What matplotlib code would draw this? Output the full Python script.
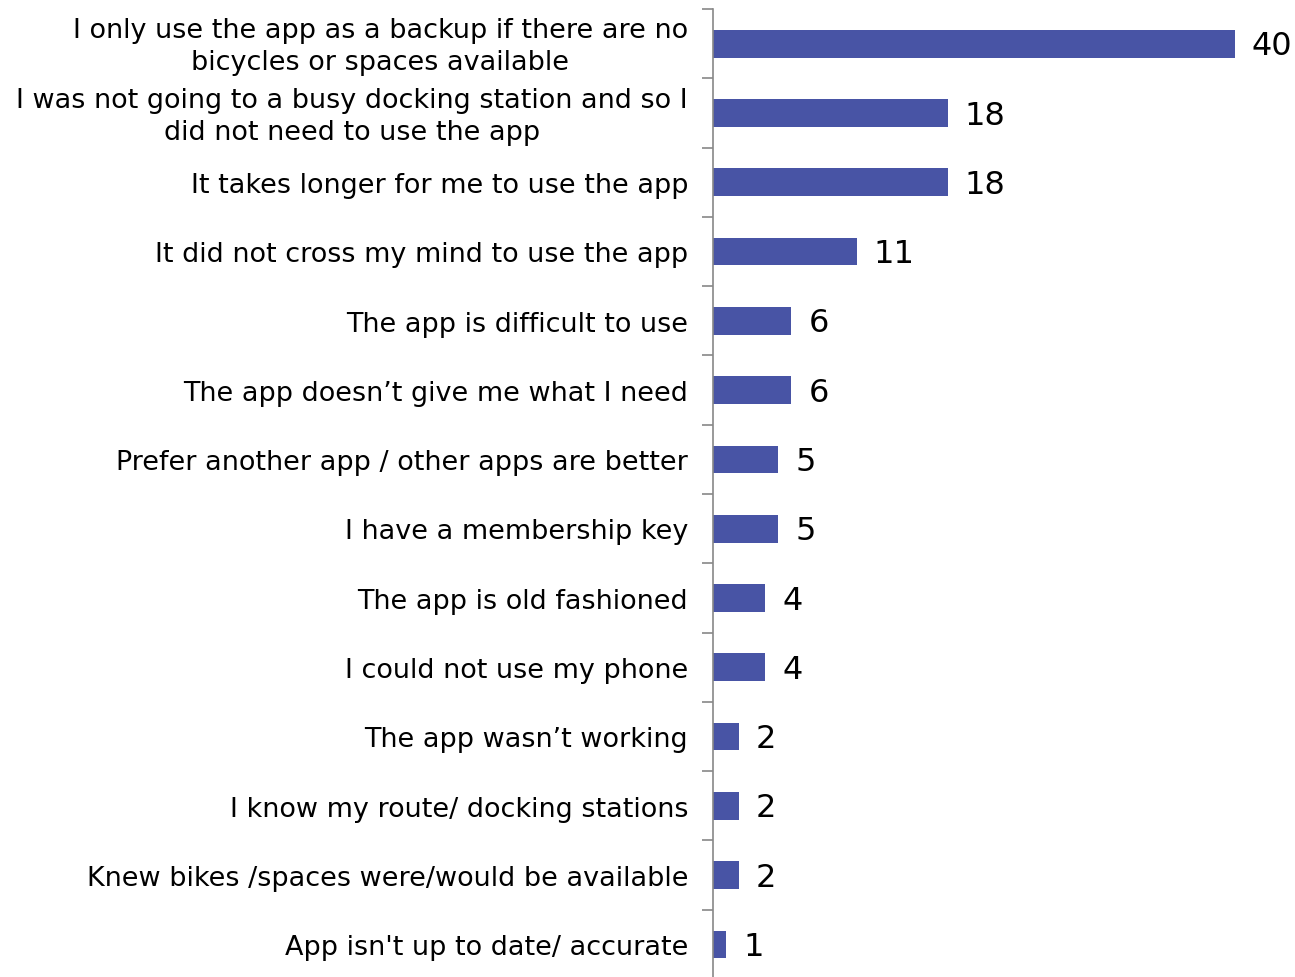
import matplotlib.pyplot as plt
import numpy as np

reasons = [
    "I only use the app as a backup if there are no\nbicycles or spaces available",
    "I was not going to a busy docking station and so I\ndid not need to use the app",
    "It takes longer for me to use the app",
    "It did not cross my mind to use the app",
    "The app is difficult to use",
    "The app doesn\u2019t give me what I need",
    "Prefer another app / other apps are better",
    "I have a membership key",
    "The app is old fashioned",
    "I could not use my phone",
    "The app wasn\u2019t working",
    "I know my route/ docking stations",
    "Knew bikes /spaces were/would be available",
    "App isn't up to date/ accurate",
]
counts = [40, 18, 18, 11, 6, 6, 5, 5, 4, 4, 2, 2, 2, 1]

fig = plt.figure(figsize=(12.95, 9.78), dpi=100)
ax = fig.add_axes([713 / 1295, -2 / 978, 1 - 713 / 1295, 970 / 978])

y = np.arange(len(reasons))
ax.barh(y, counts, height=0.4, color='#4854A5')
ax.set_ylim(len(reasons) - 0.5, -0.5)
ax.set_xlim(0, 44.6)

for yi, v in zip(y, counts):
    ax.text(v + 1.3, yi + 0.03, str(v), va='center', ha='left', fontsize=23, color='black')

# category labels as text; ticks sit on the category boundaries
ax.set_yticks(np.arange(-0.5, len(reasons) + 0.5, 1))
ax.set_yticklabels([])
ax.tick_params(axis='y', length=8, color='#888888', width=1.2)
for yi, lab in zip(y, reasons):
    ax.text(-25 / 13.05, yi + 0.04, lab, ha='right', va='center', multialignment='center',
            fontsize=19.45, linespacing=1.3, color='black')

ax.set_xticks([])
for s in ['top', 'right', 'bottom']:
    ax.spines[s].set_visible(False)
ax.spines['left'].set_color('#888888')
ax.spines['left'].set_linewidth(1.2)

fig.savefig('out.png', dpi=100)
